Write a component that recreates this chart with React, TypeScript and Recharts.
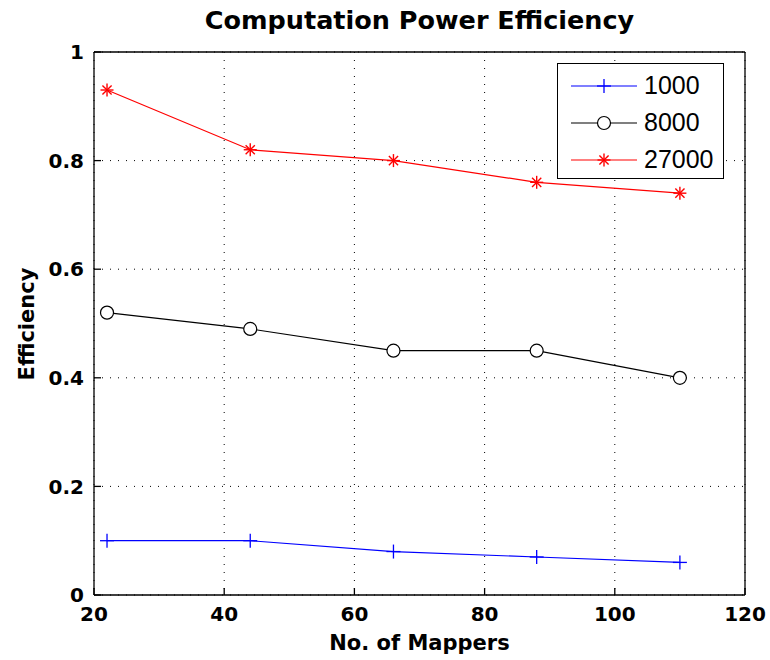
import React from 'react'
import { LineChart, Line, XAxis, YAxis, CartesianGrid, Legend, Label } from 'recharts'

const mappers = [22, 44, 66, 88, 110]
const eff1000 = [0.1, 0.1, 0.08, 0.07, 0.06]
const eff8000 = [0.52, 0.49, 0.45, 0.45, 0.4]
const eff27000 = [0.93, 0.82, 0.8, 0.76, 0.74]
const xTicks = [20, 40, 60, 80, 100, 120]
const yTicks = [0, 0.2, 0.4, 0.6, 0.8, 1]
const seriesNames = ['1000', '8000', '27000']

const data = mappers.map((m, i) => ({
  mappers: m,
  s1000: eff1000[i],
  s8000: eff8000[i],
  s27000: eff27000[i],
}))

const LABEL_FONT = 'DejaVu Sans'

function XTick(props: any) {
  const { x, y, payload } = props
  return (
    <text x={x} y={y} dy="0.71em" textAnchor="middle" fontFamily={LABEL_FONT} fontWeight="bold" fontSize={20} fill="#000">
      {payload.value}
    </text>
  )
}

function YTick(props: any) {
  const { x, y, payload } = props
  return (
    <text x={x} y={y} dy="0.36em" textAnchor="end" fontFamily={LABEL_FONT} fontWeight="bold" fontSize={20} fill="#000">
      {String(payload.value)}
    </text>
  )
}

function PlusMark({ cx, cy, color }: { cx: number; cy: number; color: string }) {
  return (
    <g>
      <line x1={cx - 7} y1={cy} x2={cx + 7} y2={cy} stroke={color} strokeWidth={1.3} />
      <line x1={cx} y1={cy - 7} x2={cx} y2={cy + 7} stroke={color} strokeWidth={1.3} />
    </g>
  )
}

function CircleMark({ cx, cy, color }: { cx: number; cy: number; color: string }) {
  return <circle cx={cx} cy={cy} r={6.5} fill="#fff" stroke={color} strokeWidth={1.2} />
}

function StarMark({ cx, cy, color }: { cx: number; cy: number; color: string }) {
  const d = 4.6
  return (
    <g stroke={color} strokeWidth={1.4}>
      <line x1={cx - 6.5} y1={cy} x2={cx + 6.5} y2={cy} />
      <line x1={cx} y1={cy - 6.5} x2={cx} y2={cy + 6.5} />
      <line x1={cx - d} y1={cy - d} x2={cx + d} y2={cy + d} />
      <line x1={cx - d} y1={cy + d} x2={cx + d} y2={cy - d} />
    </g>
  )
}

const markers = [PlusMark, CircleMark, StarMark]
const colors = ['#0000ff', '#000000', '#ff0000']

function makeDot(idx: number) {
  const Mark = markers[idx]
  return (props: any) => {
    const { cx, cy, index } = props
    if (cx == null || cy == null) return <g key={`d${idx}-${index}`} />
    return (
      <g key={`d${idx}-${index}`}>
        <Mark cx={cx} cy={cy} color={colors[idx]} />
      </g>
    )
  }
}

function LegendBox() {
  return (
    <div
      style={{
        width: 165,
        height: 111,
        border: '1px solid #000',
        background: '#fff',
        paddingTop: 3,
        boxSizing: 'content-box',
      }}
    >
      {seriesNames.map((name, i) => {
        const Mark = markers[i]
        return (
          <div key={name} style={{ display: 'flex', alignItems: 'center', height: 37 }}>
            <svg width={86} height={20} style={{ display: 'block' }}>
              <line x1={13} y1={10} x2={79} y2={10} stroke={colors[i]} strokeWidth={1.2} />
              <Mark cx={46} cy={10} color={colors[i]} />
            </svg>
            <span
              style={{
                fontFamily: 'Liberation Sans, Arial',
                fontSize: 25,
                color: '#000',
                lineHeight: '25px',
              }}
            >
              {name}
            </span>
          </div>
        )
      })}
    </div>
  )
}

function YLabel() {
  return (
    <text
      x={34}
      y={324}
      transform="rotate(-90, 34, 324)"
      textAnchor="middle"
      fontFamily={LABEL_FONT}
      fontWeight="bold"
      fontSize={21}
      fill="#000"
    >
      Efficiency
    </text>
  )
}

export default function App() {
  return (
    <div style={{ position: 'absolute', left: 0, top: 0, width: 770, height: 660, background: '#fff' }}>
      <div
        style={{
          position: 'absolute',
          left: 94,
          width: 651,
          top: 8,
          textAlign: 'center',
          fontFamily: LABEL_FONT,
          fontWeight: 'bold',
          fontSize: 25.5,
          lineHeight: '25px',
          color: '#000',
          zIndex: 2,
        }}
      >
        Computation Power Efficiency
      </div>
      <LineChart width={770} height={660} data={data} margin={{ top: 42, right: 15, left: 0, bottom: 5 }}>
        <CartesianGrid stroke="#000" strokeDasharray="1 7" strokeWidth={1} />
        <XAxis
          dataKey="mappers"
          type="number"
          domain={[20, 120]}
          ticks={xTicks}
          height={60}
          tickSize={-7}
          tickMargin={19}
          tick={<XTick />}
          axisLine={{ stroke: '#000', strokeWidth: 1.3 }}
          tickLine={{ stroke: '#000', strokeWidth: 1.3 }}
        >
          <Label
            value="No. of Mappers"
            position="insideBottom"
            offset={5}
            style={{ fontFamily: LABEL_FONT, fontWeight: 'bold', fontSize: 21, fill: '#000' }}
          />
        </XAxis>
        <XAxis
          xAxisId="top"
          orientation="top"
          type="number"
          domain={[20, 120]}
          ticks={xTicks}
          height={10}
          tickSize={-7}
          tickFormatter={() => ''}
          axisLine={{ stroke: '#000', strokeWidth: 1.3 }}
          tickLine={{ stroke: '#000', strokeWidth: 1.3 }}
        />
        <YAxis
          type="number"
          domain={[0, 1]}
          ticks={yTicks}
          width={94}
          tickSize={-7}
          tickMargin={17}
          tick={<YTick />}
          axisLine={{ stroke: '#000', strokeWidth: 1.3 }}
          tickLine={{ stroke: '#000', strokeWidth: 1.3 }}
        >
          <Label content={() => <YLabel />} />
        </YAxis>
        <YAxis
          yAxisId="right"
          orientation="right"
          type="number"
          domain={[0, 1]}
          ticks={yTicks}
          width={10}
          tickSize={-7}
          tickFormatter={() => ''}
          axisLine={{ stroke: '#000', strokeWidth: 1.3 }}
          tickLine={{ stroke: '#000', strokeWidth: 1.3 }}
        />
        <Legend
          layout="horizontal"
          verticalAlign="middle"
          align="center"
          wrapperStyle={{ left: 557, top: 63, width: 'auto', height: 'auto' }}
          content={() => <LegendBox />}
        />
        <Line
          dataKey="s1000"
          name={seriesNames[0]}
          stroke={colors[0]}
          strokeWidth={1.2}
          dot={makeDot(0)}
          activeDot={false}
          isAnimationActive={false}
        />
        <Line
          dataKey="s8000"
          name={seriesNames[1]}
          stroke={colors[1]}
          strokeWidth={1.2}
          dot={makeDot(1)}
          activeDot={false}
          isAnimationActive={false}
        />
        <Line
          dataKey="s27000"
          name={seriesNames[2]}
          stroke={colors[2]}
          strokeWidth={1.2}
          dot={makeDot(2)}
          activeDot={false}
          isAnimationActive={false}
        />
      </LineChart>
    </div>
  )
}
